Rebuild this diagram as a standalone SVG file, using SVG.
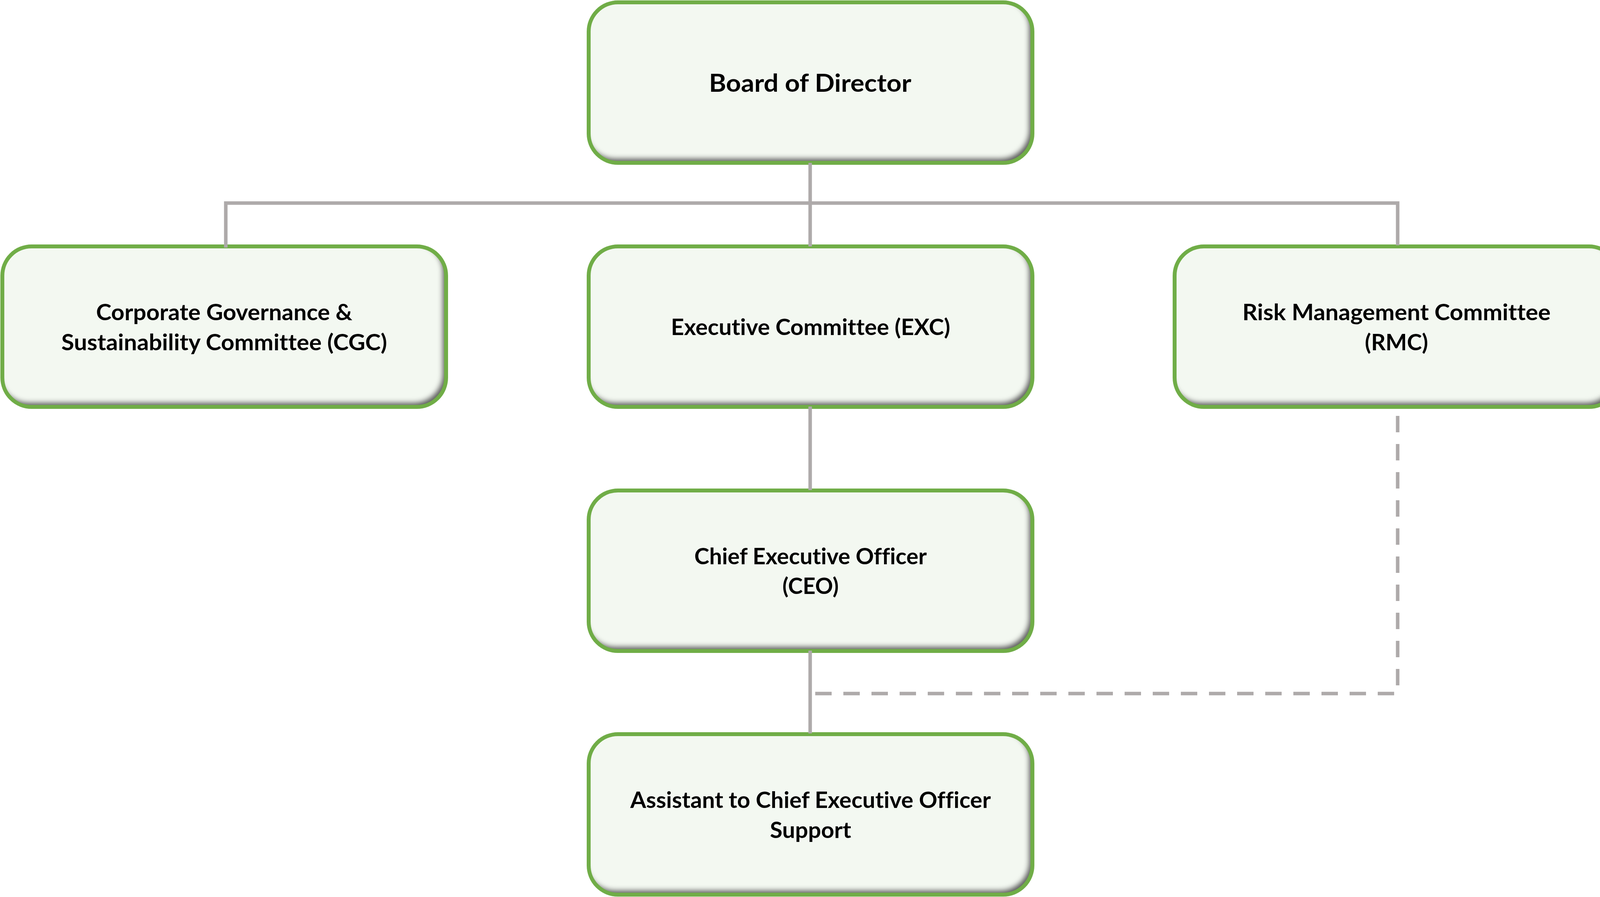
<svg xmlns="http://www.w3.org/2000/svg" width="4149" height="2297" viewBox="0 0 4149 2297">
  <style>
    .bg { fill: #FFFFFF; }
    .fill { fill: #F3F8F1; filter: url(#innerShadow); }
    .frame { fill: none; stroke: #70AD47; stroke-width: 10; }
    .label { font-family: "Lato", "Open Sans", "Liberation Sans", sans-serif; font-weight: 700; font-size: 57px; fill: #000000; text-anchor: middle; font-variant-ligatures: no-common-ligatures no-discretionary-ligatures; }
    .title { font-size: 63px; }
    .conn { fill: none; stroke: #AEAAAA; stroke-width: 9; stroke-linejoin: miter; stroke-linecap: butt; }
    .dashed { stroke-dasharray: 42 30; }
  </style>
  <defs>
    <filter id="innerShadow" x="-5%" y="-10%" width="110%" height="120%" color-interpolation-filters="sRGB">
      <feComponentTransfer in="SourceAlpha" result="inv">
        <feFuncA type="table" tableValues="1 0"/>
      </feComponentTransfer>
      <feGaussianBlur in="inv" stdDeviation="7" result="blur"/>
      <feOffset in="blur" dx="-8" dy="-10" result="off"/>
      <feFlood flood-color="#585858" flood-opacity="1"/>
      <feComposite in2="off" operator="in" result="col"/>
      <feComposite in="col" in2="SourceAlpha" operator="in" result="shadow"/>
      <feMerge>
        <feMergeNode in="SourceGraphic"/>
        <feMergeNode in="shadow"/>
      </feMerge>
    </filter>
  </defs>

  <rect class="bg" x="0" y="0" width="4149" height="2297"/>

  <g id="node-board">
    <rect class="fill" x="1507" y="6" width="1136" height="411" rx="75" ry="75"/>
    <rect class="frame" x="1507" y="6" width="1136" height="411" rx="75" ry="75"/>
    <text class="label title" x="2074" y="235" textLength="518" lengthAdjust="spacingAndGlyphs">Board of Director</text>
  </g>

  <g id="node-cgc">
    <rect class="fill" x="6" y="631" width="1136" height="411" rx="75" ry="75"/>
    <rect class="frame" x="6" y="631" width="1136" height="411" rx="75" ry="75"/>
    <text class="label" x="574" y="820" textLength="656" lengthAdjust="spacingAndGlyphs">Corporate Governance &amp;</text>
    <text class="label" x="574" y="897" textLength="834" lengthAdjust="spacingAndGlyphs">Sustainability Committee (CGC)</text>
  </g>

  <g id="node-exc">
    <rect class="fill" x="1507" y="631" width="1136" height="411" rx="75" ry="75"/>
    <rect class="frame" x="1507" y="631" width="1136" height="411" rx="75" ry="75"/>
    <text class="label" x="2075" y="858" textLength="715" lengthAdjust="spacingAndGlyphs">Executive Committee (EXC)</text>
  </g>

  <g id="node-rmc">
    <rect class="fill" x="3007" y="631" width="1136" height="411" rx="75" ry="75"/>
    <rect class="frame" x="3007" y="631" width="1136" height="411" rx="75" ry="75"/>
    <text class="label" x="3575" y="820" textLength="789" lengthAdjust="spacingAndGlyphs">Risk Management Committee</text>
    <text class="label" x="3575" y="897" textLength="162" lengthAdjust="spacingAndGlyphs">(RMC)</text>
  </g>

  <g id="node-ceo">
    <rect class="fill" x="1507" y="1256" width="1136" height="411" rx="75" ry="75"/>
    <rect class="frame" x="1507" y="1256" width="1136" height="411" rx="75" ry="75"/>
    <text class="label" x="2075" y="1445" textLength="595" lengthAdjust="spacingAndGlyphs">Chief Executive Officer</text>
    <text class="label" x="2075" y="1521" textLength="144" lengthAdjust="spacingAndGlyphs">(CEO)</text>
  </g>

  <g id="node-assistant">
    <rect class="fill" x="1507" y="1880" width="1136" height="411" rx="75" ry="75"/>
    <rect class="frame" x="1507" y="1880" width="1136" height="411" rx="75" ry="75"/>
    <text class="label" x="2075" y="2069" textLength="923" lengthAdjust="spacingAndGlyphs">Assistant to Chief Executive Officer</text>
    <text class="label" x="2075" y="2146" textLength="208" lengthAdjust="spacingAndGlyphs">Support</text>
  </g>

  <g id="connectors">
    <path class="conn" d="M2074 417 V631"/>
    <path class="conn" d="M578 634 V520 H3578 V628"/>
    <path class="conn" d="M2074 1041 V1255"/>
    <path class="conn" d="M2074 1666 V1878"/>
    <path class="conn dashed" d="M3578 1065 V1776 H2080"/>
  </g>
</svg>
